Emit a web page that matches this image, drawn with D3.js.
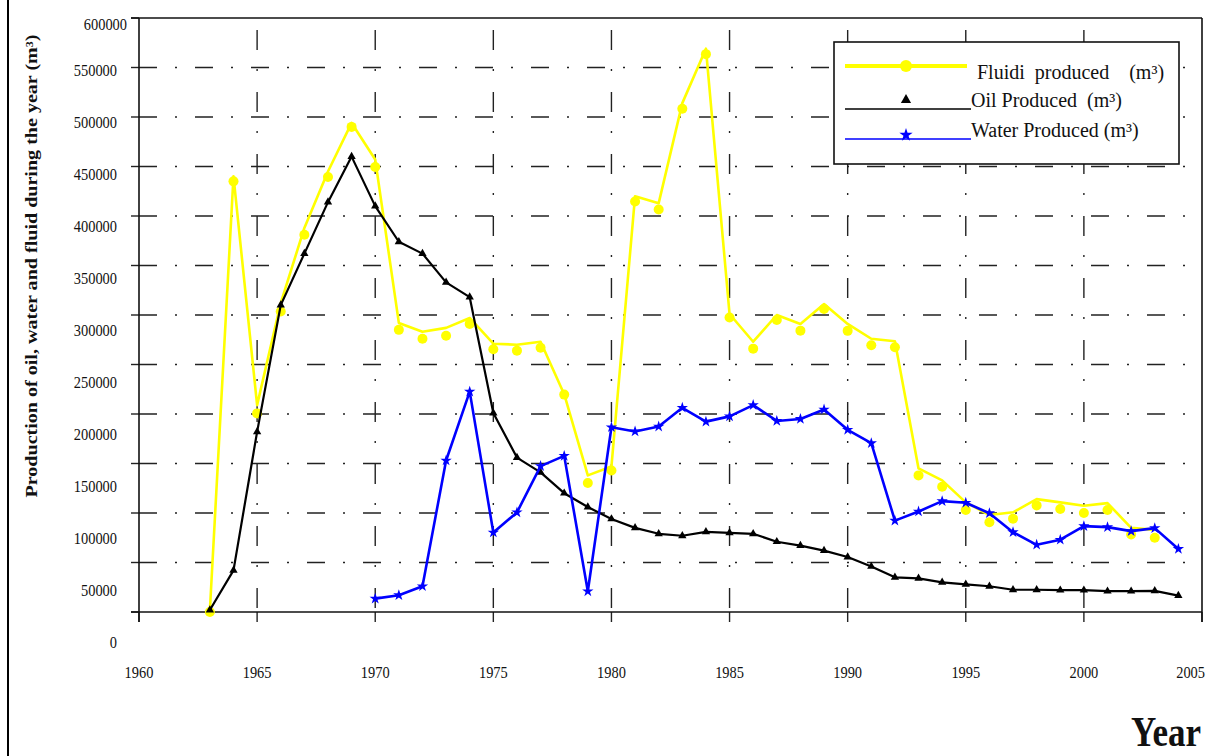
<!DOCTYPE html>
<html><head><meta charset="utf-8">
<script src="https://cdn.jsdelivr.net/npm/d3@7"></script>
<style>
body{margin:0;background:#fff}
svg{display:block}
text{font-family:"Liberation Serif","Times New Roman",serif;fill:#111}
</style>
</head><body><svg id="c" width="1217" height="756"></svg>
<script>
const years = [1963,1964,1965,1966,1967,1968,1969,1970,1971,1972,1973,1974,1975,1976,1977,1978,1979,1980,1981,1982,1983,1984,1985,1986,1987,1988,1989,1990,1991,1992,1993,1994,1995,1996,1997,1998,1999,2000,2001,2002,2003,2004];
// Fluid produced: polyline vertices (1963-2003)
const fluidLine = [1500,440000,209000,312000,388000,445000,494000,457000,292000,283000,287000,297000,271000,270000,273000,220000,138000,147000,420000,413000,514000,569000,301000,273000,300000,291000,311000,291000,276000,273500,145000,133000,110700,98000,100700,114000,110700,107300,110000,85000,83000];
// Fluid produced: circle markers (1963-2003)
const fluidPoints = [0,435000,200600,303500,381000,439400,490000,449500,285000,276000,279000,291000,265400,264000,267000,219600,130300,142900,414600,406600,508400,563500,297500,266000,295000,284200,306000,284000,269500,267500,138000,126600,103000,90700,94300,107700,104000,100000,103000,78300,75000];
const oilProduced = [2000,42000,182000,310000,362000,414000,460000,410000,374000,362000,333000,318000,201000,156000,141000,120000,106000,94000,85000,79000,77000,81000,80000,79000,71000,67000,62000,55500,46000,35000,34000,30000,28000,26000,22500,22500,22000,22000,21000,21000,21300,16500];
const waterProduced = [null,null,null,null,null,null,null,13500,17000,26000,153000,222600,80300,100600,147400,157700,20900,186600,182400,187300,206300,192300,197600,209000,193000,195000,204500,184000,170500,92300,101500,112000,110300,99800,80600,67900,73000,86700,85700,81700,84700,63700];
const yTicks = [0,50000,100000,150000,200000,250000,300000,350000,400000,450000,500000,550000,600000];
const xTicks = [1960,1965,1970,1975,1980,1985,1990,1995,2000,2005];
const legendLabels = ["Fluidi  produced    (m³)","Oil Produced  (m³)","Water Produced (m³)"];
const yTitle = "Production of oil, water and fluid during the year (m³)";
const xTitle = "Year";

const svg = d3.select("#c");
const m = {left:139, right:1202, top:18, bottom:612};
const x = d3.scaleLinear().domain([1960,2005]).range([m.left,m.right]);
const y = d3.scaleLinear().domain([0,600000]).range([m.bottom,m.top]);
const yLab = d3.scaleLinear().domain([0,550000]).range([642,70]);

// page frame line
svg.append("line").attr("x1",8).attr("x2",8).attr("y1",0).attr("y2",756)
  .attr("stroke","#000").attr("stroke-width",2);

const grid = svg.append("g").attr("stroke","#222").attr("stroke-width",1.4);
grid.selectAll("line.hg").data(yTicks.filter(d=>d>0&&d<600000)).join("line").attr("class","hg")
  .attr("x1",m.left).attr("x2",m.right).attr("y1",d=>y(d)).attr("y2",d=>y(d))
  .attr("stroke-dasharray","18,18,2,18");
grid.selectAll("line.vg").data(xTicks.filter(d=>d>1960&&d<2005)).join("line").attr("class","vg")
  .attr("x1",d=>x(d)).attr("x2",d=>x(d)).attr("y1",m.top).attr("y2",m.bottom)
  .attr("stroke-dasharray","20,19,2,21").attr("stroke-dashoffset",50);
grid.selectAll("line.yt").data(yTicks).join("line").attr("class","yt")
  .attr("x1",m.left-8).attr("x2",m.left).attr("y1",d=>y(d)).attr("y2",d=>y(d));
grid.selectAll("line.xt").data(xTicks).join("line").attr("class","xt")
  .attr("x1",d=>x(d)).attr("x2",d=>x(d)).attr("y1",m.bottom).attr("y2",m.bottom+10);

const border = svg.append("g").attr("stroke","#111").attr("stroke-width",1.6);
border.append("line").attr("x1",m.left-8).attr("x2",m.right).attr("y1",m.top).attr("y2",m.top);
border.append("line").attr("x1",m.left-8).attr("x2",m.right).attr("y1",m.bottom).attr("y2",m.bottom);
border.append("line").attr("x1",m.left).attr("x2",m.left).attr("y1",m.top).attr("y2",m.bottom+10);
border.append("line").attr("x1",m.right).attr("x2",m.right).attr("y1",m.top).attr("y2",m.bottom+10);

// tick labels
svg.append("g").selectAll("g").data(yTicks).join("g")
  .attr("transform",d=>d===600000?`translate(127,${y(d)+6}) scale(0.9,1)`:`translate(117,${yLab(d)}) scale(0.9,1)`)
  .append("text").attr("text-anchor","end").attr("dominant-baseline","central")
  .attr("font-size",16).text(d=>d);
svg.append("g").selectAll("g").data(xTicks).join("g")
  .attr("transform",d=>d===2005?`translate(${x(d)+3},672) scale(0.9,1)`:`translate(${x(d)},672) scale(0.9,1)`)
  .append("text").attr("text-anchor",d=>d===2005?"end":"middle").attr("dominant-baseline","central")
  .attr("font-size",16).text(d=>d);

// axis titles
svg.append("text").attr("transform","translate(37,266) rotate(-90)")
  .attr("text-anchor","middle").attr("font-weight","bold").attr("font-size",16)
  .attr("textLength",463).attr("lengthAdjust","spacingAndGlyphs").text(yTitle);
svg.append("text").attr("x",1131).attr("y",746).attr("font-weight","bold").attr("font-size",42)
  .attr("textLength",70).attr("lengthAdjust","spacingAndGlyphs").text(xTitle);

// series
const fluidData = years.slice(0,fluidLine.length).map((yr,i)=>({yr,v:fluidLine[i]}));
const fluidPts = years.slice(0,fluidPoints.length).map((yr,i)=>({yr,v:fluidPoints[i]}));
const oilData = years.map((yr,i)=>({yr,v:oilProduced[i]}));
const waterData = years.map((yr,i)=>({yr,v:waterProduced[i]}));
const line = d3.line().defined(d=>d.v!=null).x(d=>x(d.yr)).y(d=>y(d.v));

svg.append("path").datum(fluidData).attr("d",line).attr("fill","none")
  .attr("stroke","#ffff00").attr("stroke-width",2.6).attr("stroke-linejoin","round");
svg.append("g").selectAll("circle").data(fluidPts).join("circle")
  .attr("cx",d=>x(d.yr)).attr("cy",d=>y(d.v)).attr("r",5).attr("fill","#ffff00");

svg.append("path").datum(oilData).attr("d",line).attr("fill","none")
  .attr("stroke","#000").attr("stroke-width",2.2).attr("stroke-linejoin","round");
svg.append("g").selectAll("path").data(oilData).join("path")
  .attr("transform",d=>`translate(${x(d.yr)},${y(d.v)})`)
  .attr("d",d3.symbol(d3.symbolTriangle,30)).attr("fill","#000");

svg.append("path").datum(waterData).attr("d",line).attr("fill","none")
  .attr("stroke","#0000ff").attr("stroke-width",2.6).attr("stroke-linejoin","round");
svg.append("g").selectAll("path").data(waterData.filter(d=>d.v!=null)).join("path")
  .attr("transform",d=>`translate(${x(d.yr)},${y(d.v)})`)
  .attr("d",d3.symbol(d3.symbolStar,40)).attr("fill","#0000ff");

// legend
const lg = svg.append("g");
lg.append("rect").attr("x",834).attr("y",42).attr("width",345).attr("height",122)
  .attr("fill","#fff").attr("stroke","#111").attr("stroke-width",1.6);
lg.append("line").attr("x1",845).attr("x2",967).attr("y1",66).attr("y2",66)
  .attr("stroke","#ffff00").attr("stroke-width",4);
lg.append("circle").attr("cx",906).attr("cy",66).attr("r",6).attr("fill","#ffff00");
lg.append("line").attr("x1",845).attr("x2",971).attr("y1",109).attr("y2",109)
  .attr("stroke","#000").attr("stroke-width",1.5);
lg.append("path").attr("transform","translate(906,100)").attr("d",d3.symbol(d3.symbolTriangle,45)).attr("fill","#000");
lg.append("line").attr("x1",845).attr("x2",971).attr("y1",139).attr("y2",139)
  .attr("stroke","#0000ff").attr("stroke-width",1.5);
lg.append("path").attr("transform","translate(906,135)").attr("d",d3.symbol(d3.symbolStar,55)).attr("fill","#0000ff");
const lpos = [[977,79],[971,107],[971,137]];
lg.selectAll("text").data(legendLabels).join("text")
  .attr("x",(d,i)=>lpos[i][0]).attr("y",(d,i)=>lpos[i][1])
  .attr("font-size",20).style("white-space","pre").text(d=>d);
</script>
</body></html>
